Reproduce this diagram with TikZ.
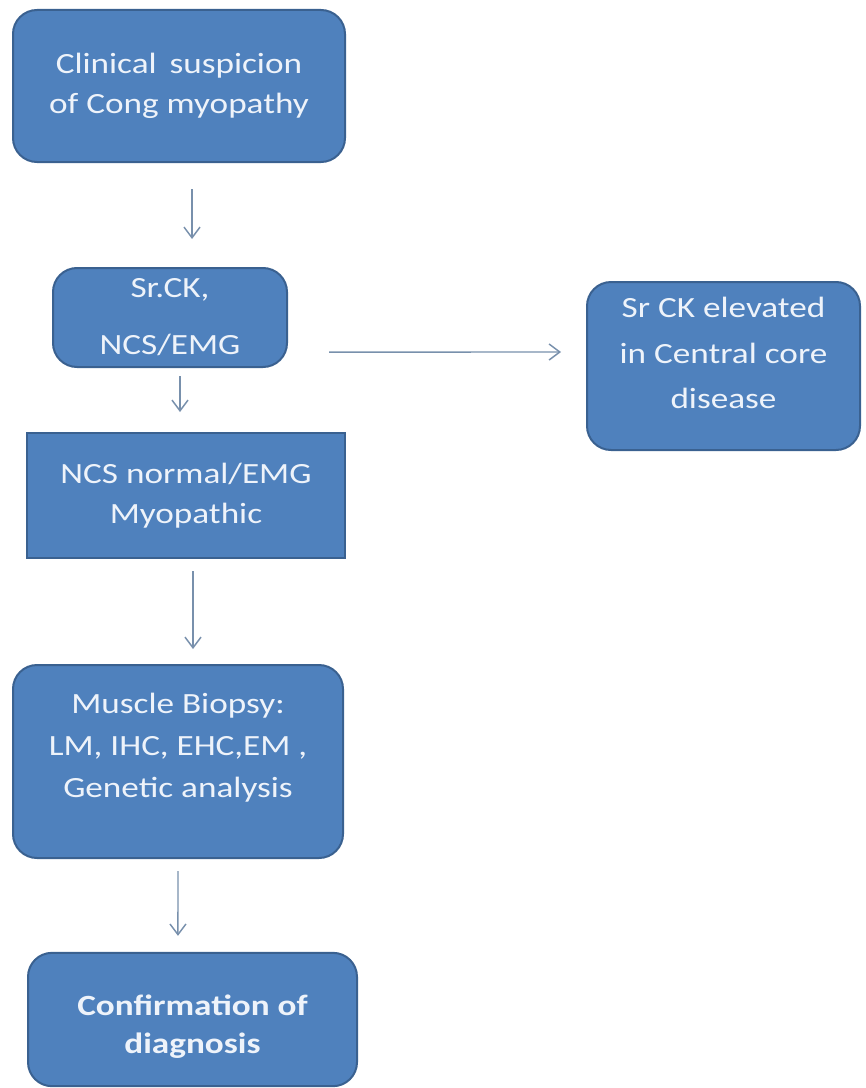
\documentclass[tikz,border=0pt]{standalone}
\usepackage{fontspec}
\setmainfont{Carlito}[FakeStretch=1.2]
\usepackage{xcolor}
\usepackage{tikz}
\usetikzlibrary{positioning, arrows.meta}

\definecolor{boxblue}{HTML}{4F81BD}
\definecolor{boxedge}{HTML}{3A6190}
\definecolor{boxtext}{HTML}{EEF3FA}
\definecolor{arrowgrey}{HTML}{7890AC}

\begin{document}
\begin{tikzpicture}[x=0.75pt,y=-0.75pt,
    box/.style={draw=boxedge, line width=1.5pt, fill=boxblue, text=boxtext, align=center, inner sep=0pt,
        font=\fontsize{22}{30}\selectfont},
    rbox/.style={box, rounded corners=18pt},
    flow/.style={-{Straight Barb[length=8pt,width=12pt]}, arrowgrey, line width=1.1pt}]
    \useasboundingbox (0,0) rectangle (866,1088);

    \node[rbox, minimum width=249pt, minimum height=114pt] (clin) at (179,86) {Clinical\, suspicion\\of Cong myopathy};
    \node[rbox, minimum width=175.5pt, minimum height=74.25pt] (ck) at (170,317.5) {Sr.CK,\\[12.75pt]NCS/EMG};
    \node[rbox, minimum width=204.75pt, minimum height=126pt, text depth=19.5pt] (cc) at (723.5,366) {Sr CK elevated\\[4pt]in Central core\\[4pt]disease};
    \node[box, minimum width=238.5pt, minimum height=93.75pt] (ncs) at (186,495.5) {NCS normal/EMG\\Myopathic};
    \node[rbox, minimum width=247.5pt, minimum height=144.75pt, text depth=25pt] (bio) at (178,761.5) {Muscle Biopsy:\\[1.5pt]LM, IHC, EHC,EM ,\\[1.5pt]Genetic analysis};
    \node[rbox, minimum width=246.75pt, minimum height=100pt, text height=54pt, font=\fontsize{22}{28.5}\selectfont\bfseries] (conf) at (192.5,1019.5) {Confirmation of\\diagnosis};

    \draw[flow, shorten <=19.5pt, shorten >=21pt] ([xshift=9.75pt]clin.south) -- ([xshift=16.5pt]ck.north);
    \draw[flow, shorten <=6pt, shorten >=15pt] ([xshift=7.5pt]ck.south) -- ([xshift=-4.5pt]ncs.north);
    \draw[flow, shorten <=30.75pt, shorten >=18.75pt] ([yshift=-25.9pt]ck.east) -- ([yshift=10.5pt]cc.west);
    \draw[flow, shorten <=9pt, shorten >=11.25pt] ([xshift=5.25pt]ncs.south) -- ([xshift=11.25pt]bio.north);
    \draw[flow, shorten <=9pt, shorten >=12pt] (bio.south) -- ([xshift=-10.9pt]conf.north);
\end{tikzpicture}
\end{document}
